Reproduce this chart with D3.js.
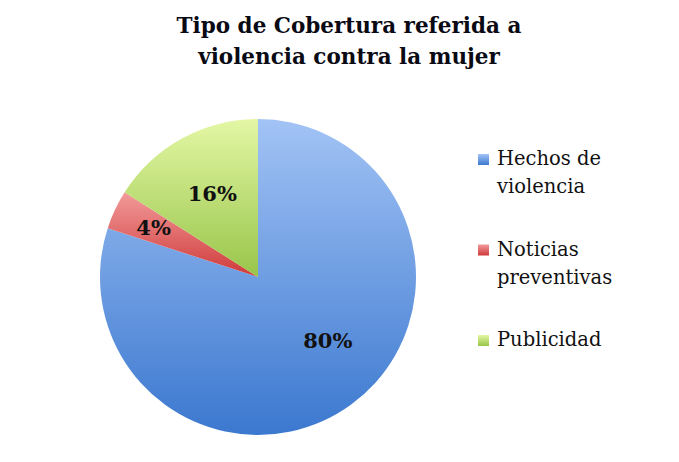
<!DOCTYPE html>
<html>
<head>
<meta charset="utf-8">
<script src="https://cdn.jsdelivr.net/npm/d3@7"></script>
<style>
  body { margin: 0; background: #fff; }
  svg { display: block; }
</style>
</head>
<body>
<svg id="chart"></svg>
<script>
const categories = ["Hechos de violencia", "Noticias preventivas", "Publicidad"];
const legendLines = [["Hechos de", "violencia"], ["Noticias", "preventivas"], ["Publicidad"]];
const values = [80, 4, 16];
const labels = ["80%", "4%", "16%"];

const width = 679, height = 462;
const cx = 258, cy = 277, radius = 158;
const serif = "'DejaVu Serif', 'Liberation Serif', serif";

const colorsLight = ["#a2c3f5", "#f29a9a", "#e3f7a4"];
const colorsDark = ["#3b78cf", "#cf3a3a", "#98c54a"];

const svg = d3.select("#chart")
    .attr("width", width)
    .attr("height", height);

const defs = svg.append("defs");
categories.forEach((c, i) => {
    const g = defs.append("linearGradient")
        .attr("id", "grad" + i)
        .attr("x1", 0).attr("y1", 0)
        .attr("x2", 0).attr("y2", 1);
    g.append("stop").attr("offset", "0%").attr("stop-color", colorsLight[i]);
    g.append("stop").attr("offset", "100%").attr("stop-color", colorsDark[i]);
});

// title
const title = svg.append("text")
    .attr("text-anchor", "middle")
    .style("font-family", serif)
    .style("font-weight", "bold")
    .style("font-size", "21.5px")
    .attr("fill", "#0a0a14");
title.append("tspan").attr("x", 349).attr("y", 33).text("Tipo de Cobertura referida a");
title.append("tspan").attr("x", 349).attr("y", 64).text("violencia contra la mujer");

const pie = d3.pie().sort(null).value(d => d);
const arcs = pie(values);
const total = d3.sum(values);
const arc = d3.arc().innerRadius(0).outerRadius(radius);

const g = svg.append("g").attr("transform", `translate(${cx}, ${cy})`);

g.selectAll("path")
    .data(arcs)
    .enter()
    .append("path")
    .attr("d", arc)
    .attr("fill", (d, i) => `url(#grad${i})`);

// small slices get their label pushed further out, like the original
g.selectAll(".lbl")
    .data(arcs)
    .enter()
    .append("text")
    .attr("class", "lbl")
    .attr("transform", d => {
        const frac = d.value / total;
        const r = frac < 0.1 ? radius * 0.73 : radius * 0.6;
        const a = (d.startAngle + d.endAngle) / 2 - (frac > 0.5 ? 0.2 : 0);
        return `translate(${r * Math.sin(a)}, ${-r * Math.cos(a)})`;
    })
    .attr("text-anchor", "middle")
    .attr("dy", "0.35em")
    .style("font-family", serif)
    .style("font-weight", "bold")
    .style("font-size", "21px")
    .attr("fill", "#111")
    .text((d, i) => labels[i]);

// legend
const legendY = d3.scalePoint().domain(categories).range([165, 346]);
const legend = svg.append("g");
categories.forEach((c, i) => {
    const y0 = legendY(c);
    legend.append("rect")
        .attr("x", 478)
        .attr("y", y0 - 11)
        .attr("width", 11)
        .attr("height", 11)
        .attr("fill", `url(#grad${i})`);
    const t = legend.append("text")
        .style("font-family", serif)
        .style("font-size", "19.5px")
        .attr("fill", "#111");
    legendLines[i].forEach((line, j) => {
        t.append("tspan").attr("x", 497).attr("y", y0 + j * 28).text(line);
    });
});
</script>
</body>
</html>
